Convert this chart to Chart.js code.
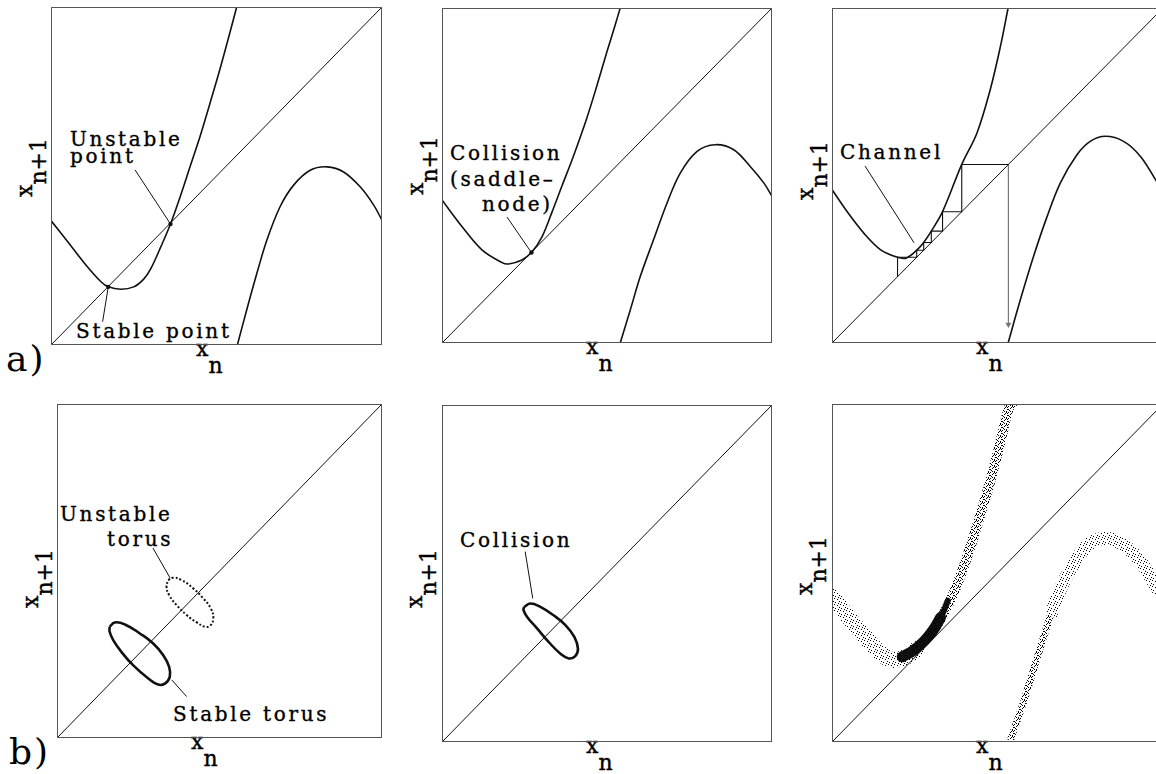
<!DOCTYPE html>
<html>
<head>
<meta charset="utf-8">
<script src="https://cdn.jsdelivr.net/npm/chart.js@4.4.1/dist/chart.umd.min.js"></script>
<style>
  body { margin: 0; width: 1156px; height: 774px; overflow: hidden; background: #fff; position: relative; font-family: "DejaVu Serif", serif; color: #000; }
  canvas { position: absolute; }
  .t { position: absolute; font-size: 20px; line-height: 20px; letter-spacing: 2.7px; white-space: nowrap; -webkit-text-stroke: 0.35px #000; }
  .xl { position: absolute; font-size: 22px; line-height: 22px; white-space: nowrap; -webkit-text-stroke: 0.4px #000; }
  .xl span { position: relative; top: 17px; }
  .yl { position: absolute; font-size: 22px; line-height: 22px; white-space: nowrap; transform: rotate(-90deg); transform-origin: 0 0; -webkit-text-stroke: 0.4px #000; }
  .yl span { position: relative; top: 14px; }
  .pl { position: absolute; font-size: 36px; line-height: 36px; white-space: nowrap; letter-spacing: 2px; }
</style>
</head>
<body>

<div class="t" style="left:70px;top:129px">Unstable</div>
<div class="t" style="left:70px;top:146px">point</div>
<div class="t" style="left:76px;top:321px">Stable point</div>
<div class="t" style="left:450px;top:143px">Collision</div>
<div class="t" style="left:450px;top:169px">(saddle–</div>
<div class="t" style="left:482px;top:194px">node)</div>
<div class="t" style="left:840px;top:142px">Channel</div>
<div class="t" style="left:60px;top:504px">Unstable</div>
<div class="t" style="left:107px;top:529px">torus</div>
<div class="t" style="left:173px;top:704px">Stable torus</div>
<div class="t" style="left:460px;top:530px">Collision</div>

<div class="xl" style="left:196px;top:338px">x<span>n</span></div>
<div class="xl" style="left:586px;top:336px">x<span>n</span></div>
<div class="xl" style="left:976px;top:336px">x<span>n</span></div>
<div class="xl" style="left:191px;top:731px">x<span>n</span></div>
<div class="xl" style="left:586px;top:735px">x<span>n</span></div>
<div class="xl" style="left:976px;top:735px">x<span>n</span></div>

<div class="yl" style="left:14px;top:197px">x<span>n+1</span></div>
<div class="yl" style="left:405px;top:195px">x<span>n+1</span></div>
<div class="yl" style="left:795px;top:200px">x<span>n+1</span></div>
<div class="yl" style="left:20px;top:608px">x<span>n+1</span></div>
<div class="yl" style="left:404px;top:608px">x<span>n+1</span></div>
<div class="yl" style="left:794px;top:595px">x<span>n+1</span></div>

<div class="pl" style="left:6px;top:341px">a)</div>
<div class="pl" style="left:9px;top:734px">b)</div>

<script>
// ---- data (x_n, x_n+1 in unit box coordinates) ----
const diagonal = [[0, 0], [1, 1]];

// a) left panel
const a1Left = [[0, 0.368], [0.050, 0.306], [0.101, 0.242], [0.151, 0.187], [0.173, 0.172], [0.211, 0.165],
  [0.250, 0.172], [0.280, 0.195], [0.302, 0.227], [0.332, 0.291], [0.361, 0.358], [0.390, 0.438],
  [0.420, 0.527], [0.450, 0.616], [0.480, 0.714], [0.511, 0.818], [0.541, 0.926], [0.561, 1.0]];
const a1Right = [[0.563, 0], [0.591, 0.103], [0.622, 0.212], [0.652, 0.310], [0.692, 0.409], [0.733, 0.473],
  [0.783, 0.517], [0.834, 0.527], [0.884, 0.512], [0.934, 0.468], [0.975, 0.414], [1.0, 0.369]];
const a1Fixed = [[0.173, 0.172], [0.361, 0.358]];
const a1LeadUnstable = [[0.254, 0.518], [0.361, 0.358]];
const a1LeadStable = [[0.156, 0.069], [0.173, 0.172]];

// a) middle panel
const a2Left = [[0, 0.427], [0.061, 0.347], [0.121, 0.278], [0.182, 0.240], [0.202, 0.236], [0.242, 0.248],
  [0.271, 0.270], [0.303, 0.317], [0.333, 0.390], [0.364, 0.470], [0.399, 0.560], [0.439, 0.672],
  [0.470, 0.770], [0.500, 0.870], [0.525, 0.950], [0.540, 1.0]];
const a2Right = [[0.540, 0], [0.571, 0.100], [0.601, 0.199], [0.641, 0.308], [0.682, 0.418], [0.722, 0.507],
  [0.773, 0.572], [0.828, 0.592], [0.884, 0.577], [0.934, 0.527], [0.975, 0.478], [1.0, 0.438]];
const a2Touch = [[0.271, 0.270]];
const a2Lead = [[0.197, 0.376], [0.271, 0.270]];

// a) right panel
const a3Left = [[0, 0.458], [0.045, 0.393], [0.096, 0.328], [0.146, 0.279], [0.198, 0.256], [0.225, 0.254],
  [0.256, 0.277], [0.277, 0.300], [0.300, 0.334], [0.334, 0.392], [0.392, 0.533], [0.438, 0.627],
  [0.478, 0.756], [0.509, 0.886], [0.532, 1.0]];
const a3Right = [[0.532, 0], [0.569, 0.129], [0.609, 0.259], [0.650, 0.378], [0.690, 0.478], [0.740, 0.562],
  [0.780, 0.602], [0.826, 0.617], [0.881, 0.602], [0.932, 0.557], [0.980, 0.483], [1.0, 0.448]];
const a3Cobweb = [[0.198, 0.198], [0.198, 0.256], [0.256, 0.256], [0.256, 0.277], [0.277, 0.277], [0.277, 0.300],
  [0.300, 0.300], [0.300, 0.334], [0.334, 0.334], [0.334, 0.392], [0.392, 0.392], [0.392, 0.533], [0.533, 0.533]];
const a3Escape = [[0.533, 0.533], [0.533, 0.055]];
const a3Lead = [[0.100, 0.528], [0.248, 0.299]];

// b) left panel
const b1Stable = [[0.162, 0.333], [0.178, 0.346], [0.209, 0.340], [0.255, 0.313], [0.296, 0.283], [0.327, 0.248],
  [0.345, 0.213], [0.347, 0.183], [0.332, 0.163], [0.311, 0.160], [0.281, 0.178], [0.234, 0.218],
  [0.198, 0.258], [0.173, 0.293], [0.162, 0.318], [0.162, 0.333]];
const b1Unstable = [[0.342, 0.473], [0.358, 0.480], [0.383, 0.473], [0.419, 0.448], [0.450, 0.418], [0.473, 0.388],
  [0.481, 0.358], [0.471, 0.336], [0.455, 0.333], [0.430, 0.346], [0.399, 0.368], [0.368, 0.398],
  [0.345, 0.428], [0.337, 0.453], [0.342, 0.473]];
const b1LeadUnstable = [[0.295, 0.569], [0.348, 0.479]];
const b1LeadStable = [[0.353, 0.174], [0.399, 0.124]];

// b) middle panel
const b2Torus = [[0.249, 0.401], [0.268, 0.411], [0.298, 0.401], [0.338, 0.376], [0.374, 0.347], [0.401, 0.312],
  [0.412, 0.277], [0.404, 0.255], [0.384, 0.248], [0.359, 0.262], [0.323, 0.297], [0.288, 0.337],
  [0.258, 0.371], [0.247, 0.391], [0.249, 0.401]];
const b2Lead = [[0.252, 0.565], [0.275, 0.426]];

// b) right panel (scattered bands, drawn as stippled strokes)
const b3LeftLow = [[0, 0.430], [0.045, 0.375], [0.096, 0.316], [0.141, 0.267], [0.176, 0.244], [0.217, 0.249],
  [0.257, 0.275]];
const b3LeftHigh = [[0.257, 0.275], [0.297, 0.318], [0.327, 0.362], [0.358, 0.420], [0.388, 0.492], [0.418, 0.577],
  [0.448, 0.672], [0.478, 0.771], [0.509, 0.889], [0.534, 0.988], [0.544, 1.0]];
const b3Dense = [[0.212, 0.252], [0.245, 0.270], [0.278, 0.298], [0.305, 0.330], [0.328, 0.368]];
const b3DenseTip = [[0.318, 0.350], [0.335, 0.382], [0.350, 0.418]];
const b3RightLow = [[0.539, 0.005], [0.579, 0.119], [0.619, 0.247], [0.660, 0.375]];
const b3RightHigh = [[0.660, 0.375], [0.700, 0.474], [0.740, 0.543], [0.780, 0.588], [0.831, 0.603], [0.881, 0.583],
  [0.932, 0.534], [0.982, 0.455], [1.0, 0.425]];

// ---- panel boxes on the page ----
const PAD = 4;
const boxes = {
  a1: { L: 51, T: 7, W: 331, H: 338 },
  a2: { L: 442, T: 8, W: 330, H: 335 },
  a3: { L: 832, T: 8, W: 331, H: 335 },
  b1: { L: 57, T: 404, W: 325, H: 334 },
  b2: { L: 442, T: 405, W: 330, H: 337 },
  b3: { L: 832, T: 404, W: 331, H: 338 }
};

const INK = '#111';

function line(arr, opt) {
  return Object.assign({
    data: arr.map(p => ({ x: p[0], y: p[1] })),
    showLine: true,
    pointRadius: 0,
    borderColor: INK,
    borderWidth: 1.4,
    fill: false,
    tension: 0
  }, opt || {});
}
function curve(arr, opt) {
  return line(arr, Object.assign({ tension: 0.35, borderWidth: 1.6 }, opt || {}));
}
function loop(arr, opt) {
  return line(arr, Object.assign({ tension: 0.45, borderWidth: 2.6 }, opt || {}));
}
function dots(arr, opt) {
  return Object.assign({
    data: arr.map(p => ({ x: p[0], y: p[1] })),
    showLine: false,
    pointRadius: 2.2,
    pointBackgroundColor: INK,
    pointBorderWidth: 0
  }, opt || {});
}

// stipple texture for the scattered bands
function stipple(cells) {
  const c = document.createElement('canvas');
  c.width = 6; c.height = 6;
  const g = c.getContext('2d');
  g.fillStyle = '#000';
  cells.forEach(p => g.fillRect(p[0], p[1], 1, 1));
  return g.createPattern(c, 'repeat');
}
const sparse = stipple([[0, 0], [3, 1], [5, 3], [1, 4], [4, 5]]);
const medium = stipple([[0, 0], [3, 1], [5, 3], [1, 4], [4, 5], [2, 2], [4, 0], [0, 3], [2, 5], [5, 1]]);

const frame = {
  id: 'frame',
  afterDraw(chart) {
    const a = chart.chartArea, ctx = chart.ctx;
    ctx.save();
    ctx.strokeStyle = '#555';
    ctx.lineWidth = 1;
    ctx.strokeRect(Math.round(a.left) + 0.5, Math.round(a.top) + 0.5,
      Math.round(a.right - a.left) - 1, Math.round(a.bottom - a.top) - 1);
    ctx.restore();
  }
};

function panel(key, datasets) {
  const b = boxes[key];
  const cv = document.createElement('canvas');
  cv.width = b.W + 2 * PAD;
  cv.height = b.H + 2 * PAD;
  cv.style.left = (b.L - PAD) + 'px';
  cv.style.top = (b.T - PAD) + 'px';
  document.body.appendChild(cv);
  return new Chart(cv, {
    type: 'scatter',
    data: { datasets },
    options: {
      responsive: false,
      animation: false,
      events: [],
      layout: { padding: PAD },
      plugins: { legend: { display: false }, tooltip: { enabled: false } },
      scales: {
        x: { type: 'linear', min: 0, max: 1, display: false },
        y: { type: 'linear', min: 0, max: 1, display: false }
      }
    },
    plugins: [frame]
  });
}

panel('a1', [
  line(diagonal, { borderWidth: 1 }),
  curve(a1Left),
  curve(a1Right),
  line(a1LeadUnstable, { borderWidth: 1 }),
  line(a1LeadStable, { borderWidth: 1 }),
  dots(a1Fixed)
]);

panel('a2', [
  line(diagonal, { borderWidth: 1 }),
  curve(a2Left),
  curve(a2Right),
  line(a2Lead, { borderWidth: 1 }),
  dots(a2Touch)
]);

panel('a3', [
  line(diagonal, { borderWidth: 1 }),
  curve(a3Left),
  curve(a3Right),
  line(a3Cobweb, { borderWidth: 1.1 }),
  line(a3Escape, { borderWidth: 1, borderColor: '#777' }),
  dots([a3Escape[1]], { pointStyle: 'triangle', rotation: 180, pointRadius: 3.5, pointBackgroundColor: '#777' }),
  line(a3Lead, { borderWidth: 1 })
]);

panel('b1', [
  line(diagonal, { borderWidth: 1 }),
  loop(b1Stable),
  loop(b1Unstable, { borderWidth: 2, borderDash: [2, 2] }),
  line(b1LeadUnstable, { borderWidth: 1 }),
  line(b1LeadStable, { borderWidth: 1 })
]);

panel('b2', [
  line(diagonal, { borderWidth: 1 }),
  loop(b2Torus),
  line(b2Lead, { borderWidth: 1 })
]);

panel('b3', [
  line(diagonal, { borderWidth: 1 }),
  curve(b3LeftLow, { borderColor: sparse, borderWidth: 16, borderCapStyle: 'round' }),
  curve(b3LeftHigh, { borderColor: medium, borderWidth: 10, borderCapStyle: 'round' }),
  curve(b3Dense, { borderColor: INK, borderWidth: 11, borderCapStyle: 'round' }),
  curve(b3DenseTip, { borderColor: INK, borderWidth: 6, borderCapStyle: 'round' }),
  curve(b3RightLow, { borderColor: medium, borderWidth: 7 }),
  curve(b3RightHigh, { borderColor: sparse, borderWidth: 13 })
]);
</script>
</body>
</html>
